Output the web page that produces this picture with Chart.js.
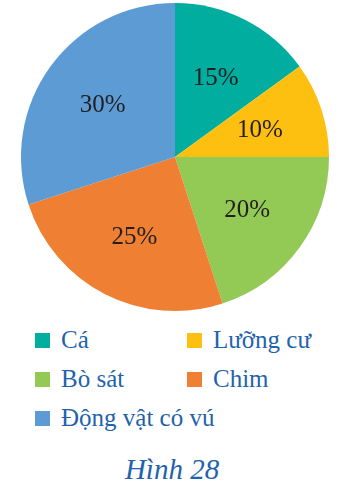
<!DOCTYPE html>
<html>
<head>
<meta charset="utf-8">
<script src="https://cdn.jsdelivr.net/npm/chart.js@4"></script>
</head>
<body style="margin:0;padding:0;background:#fff;width:344px;height:489px;position:relative;overflow:hidden;font-family:'Liberation Serif'">
<div id="wrap" style="position:absolute;left:0;top:0;width:344px;height:315px"><canvas id="c" width="344" height="315"></canvas></div>
<div id="legend"></div>
<div id="title" style="position:absolute;left:0;width:344px;top:451px;text-align:center;color:#1F63AC;font-family:'Liberation Serif';font-style:italic;font-size:29px;line-height:36px"></div>
<script>
const categories = ["Cá", "Lưỡng cư", "Bò sát", "Chim", "Động vật có vú"];
const percentages = [15, 10, 20, 25, 30];
const sliceColors = ["#01AD9E", "#FDC010", "#93C955", "#EE7F33", "#5C9BD3"];
const titleText = "Hình 28";

const legendPos = [[35, 340], [187, 340], [35, 379], [187, 379], [35, 418]];

const labelPlugin = {
  id: 'pctLabels',
  afterDatasetsDraw(chart) {
    const ctx = chart.ctx;
    const meta = chart.getDatasetMeta(0);
    ctx.save();
    ctx.fillStyle = '#231F20';
    ctx.font = "25px 'Liberation Serif'";
    ctx.textAlign = 'center';
    ctx.textBaseline = 'middle';
    meta.data.forEach((arc, i) => {
      const p = arc.getProps(['x', 'y', 'startAngle', 'endAngle', 'outerRadius'], true);
      const mid = (p.startAngle + p.endAngle) / 2;
      const r = p.outerRadius * 0.58;
      ctx.fillText(percentages[i] + '%', p.x + Math.cos(mid) * r, p.y + Math.sin(mid) * r + 1);
    });
    ctx.restore();
  }
};

function build() {
  document.getElementById('title').textContent = titleText;
  const legendEl = document.getElementById('legend');
  legendEl.innerHTML = '';
  categories.forEach((name, i) => {
    const d = document.createElement('div');
    d.style.cssText = "position:absolute;display:flex;align-items:center;color:#1F63AC;font-family:'Liberation Serif';font-size:25px;white-space:nowrap;height:30px;left:" + legendPos[i][0] + "px;top:" + (legendPos[i][1] - 15) + "px";
    const sw = document.createElement('span');
    sw.style.cssText = "display:inline-block;width:15px;height:15px;margin-right:11px;background:" + sliceColors[i];
    const tx = document.createElement('span');
    tx.textContent = name;
    d.appendChild(sw); d.appendChild(tx);
    legendEl.appendChild(d);
  });

  new Chart(document.getElementById('c'), {
    type: 'pie',
    data: {
      labels: categories,
      datasets: [{ data: percentages, backgroundColor: sliceColors, borderWidth: 0, hoverOffset: 0 }]
    },
    options: {
      responsive: false,
      animation: false,
      layout: { padding: { top: 3, bottom: 4, left: 21, right: 15 } },
      plugins: { legend: { display: false }, tooltip: { enabled: false } }
    },
    plugins: [labelPlugin]
  });
  // touch the DOM once more after drawing
  setTimeout(() => { document.body.setAttribute('data-ready', '1'); getComputedStyle(document.getElementById('title')).fontFamily; }, 100);
}

const fontsReady = (document.fonts && document.fonts.load)
  ? Promise.all([document.fonts.load("25px 'Liberation Serif'"), document.fonts.load("italic 29px 'Liberation Serif'")])
  : Promise.resolve();
fontsReady.then(() => setTimeout(build, 300), () => setTimeout(build, 300));
</script>
</body>
</html>
